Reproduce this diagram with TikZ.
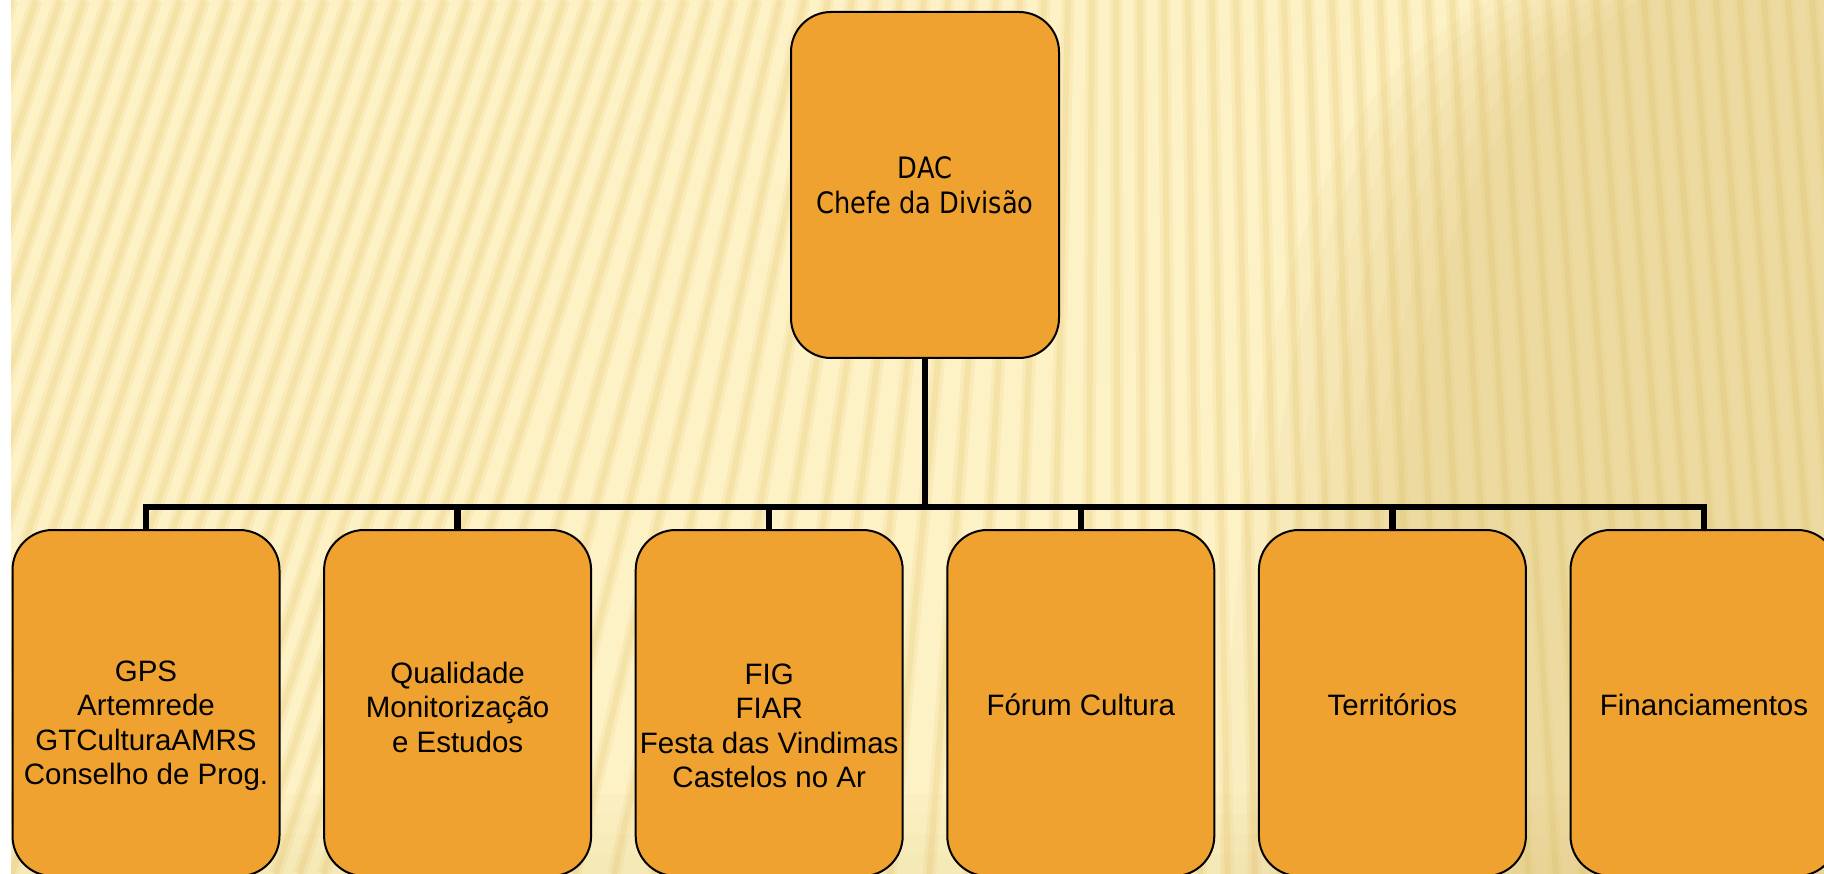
\documentclass[tikz,border=0pt]{standalone}
\usepackage{fontspec}
\setmainfont{Liberation Sans}
\newfontfamily\tahomafont[FakeStretch=0.87]{DejaVu Sans}
\definecolor{bgcream}{RGB}{253,241,198}
\definecolor{stripecol}{RGB}{236,210,130}
\definecolor{shadecol}{RGB}{215,185,100}
\definecolor{boxorange}{RGB}{239,162,48}
\tikzset{
  orgbox/.style={rectangle, rounded corners=40pt, draw=black, line width=2pt,
    fill=boxorange, minimum width=267pt, minimum height=346pt, inner sep=0pt},
  boxtext/.style={align=center, text=black, inner sep=0pt,
    font=\fontsize{29.5}{34.5}\selectfont},
  topbox/.style={orgbox, minimum width=268pt, minimum height=346pt},
  toptext/.style={boxtext, font=\tahomafont\fontsize{29.5}{35}\selectfont},
  conn/.style={draw=black, line width=6.5pt, line join=miter},
  stripewide/.style={draw=stripecol, line width=13pt, opacity=0.2},
  stripethin/.style={draw=stripecol, line width=6pt, opacity=0.3},
}
\begin{document}
\begin{tikzpicture}[x=1pt,y=-1pt]
\useasboundingbox (0,0) rectangle (1824,874);
\fill[white] (0,0) rectangle (1824,874);
\fill[bgcream] (11,0) rectangle (1824,874);
\begin{scope}
\clip (11,0) rectangle (1824,874);
\foreach \u in {-300,-276,...,2000}{
  \pgfmathsetmacro{\xm}{\u}
  \pgfmathsetmacro{\s}{0.33*min(1,max(0,(1100-\xm)/450)) - 0.08*min(1,max(0,(\xm-1100)/500))}
  \pgfmathsetmacro{\xb}{\u-\s*874}
  \draw[stripewide] (\u,0) -- (\xb,874);
  \draw[stripethin] (\u,0) -- (\xb,874);
}
\foreach \d in {0,25,...,150}{
  \fill[shadecol, opacity=0.06] (1640-\d,0) .. controls (1480-\d,90) and (1390-\d,250) .. (1370-\d,874) -- (1824,874) -- (1824,0) -- cycle;
}
\foreach \d in {0,20,...,80}{
  \fill[shadecol, opacity=0.035] (0,874-\d) rectangle (1824,874);
}
\end{scope}

\node[topbox] (top) at (925,185) {};
\node[toptext] (ttop) at (top.center) {DAC\\Chefe da Divisão};

\node[orgbox] (b1) at (146,703) {};
\node[orgbox] (b2) at (457.6,703) {};
\node[orgbox] (b3) at (769.2,703) {};
\node[orgbox] (b4) at (1080.8,703) {};
\node[orgbox] (b5) at (1392.4,703) {};
\node[orgbox] (b6) at (1704,703) {};

\node[boxtext] (t1) at ([yshift=-23pt]b1.center) {GPS\\Artemrede\\GTCulturaAMRS\\Conselho de Prog.};
\node[boxtext] (t2) at ([yshift=-4pt]b2.center) {Qualidade\\Monitorização\\e Estudos};
\node[boxtext] (t3) at ([yshift=-23pt]b3.center) {FIG\\FIAR\\Festa das Vindimas\\Castelos no Ar};
\node[boxtext] (t4) at ([yshift=-2pt]b4.center) {Fórum Cultura};
\node[boxtext] (t5) at ([yshift=-2pt]b5.center) {Territórios};
\node[boxtext] (t6) at ([yshift=-2pt]b6.center) {Financiamentos};

\coordinate (bar) at (925,507);
\draw[conn] (top.south) -- (bar);
\draw[conn] (b1.north) -- (b1.north |- bar) -- (b6.north |- bar) -- (b6.north);
\foreach \n in {b2,b3,b4,b5}{
  \draw[conn] (\n.north) -- (\n.north |- bar);
}
\end{tikzpicture}
\end{document}
